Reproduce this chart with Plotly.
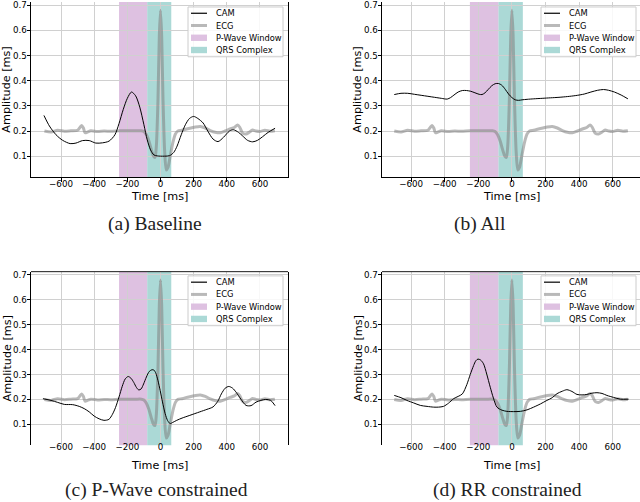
import plotly.graph_objects as go

# ---------------- data ----------------
ecg_t = [-700, -660, -620, -580, -540, -500, -485, -475, -465, -455, -440, -420, -380, -340,
         -300, -250, -200, -150, -115, -100, -85, -70, -55, -42, -33, -25, -15, -7, 0, 7, 15,
         25, 35, 45, 60, 75, 90, 105, 130, 170, 210, 240, 270, 300, 330, 360, 390, 420, 445,
         465, 478, 495, 515, 535, 555, 575, 600, 630, 660, 690]
ecg_v = [0.200, 0.196, 0.203, 0.199, 0.201, 0.203, 0.215, 0.222, 0.212, 0.193, 0.196, 0.201,
         0.198, 0.200, 0.199, 0.201, 0.201, 0.201, 0.201, 0.198, 0.185, 0.160, 0.125, 0.100,
         0.095, 0.140, 0.330, 0.580, 0.680, 0.580, 0.330, 0.120, 0.045, 0.055, 0.105, 0.155,
         0.188, 0.200, 0.203, 0.210, 0.216, 0.218, 0.212, 0.202, 0.195, 0.193, 0.200, 0.208,
         0.214, 0.224, 0.215, 0.192, 0.188, 0.195, 0.204, 0.200, 0.198, 0.203, 0.199, 0.201]

cam_a_t = [-703, -670, -630, -590, -545, -510, -470, -430, -390, -350, -310, -275, -250, -225,
           -200, -175, -150, -125, -100, -80, -60, -40, -20, 0, 25, 55, 80, 100, 125, 150, 175,
           200, 225, 257, 285, 317, 347, 380, 416, 440, 470, 496, 525, 556, 585, 615, 650, 691]
cam_a_v = [0.262, 0.220, 0.185, 0.163, 0.150, 0.152, 0.162, 0.162, 0.152, 0.153, 0.160, 0.185,
           0.230, 0.285, 0.330, 0.355, 0.340, 0.295, 0.225, 0.165, 0.125, 0.105, 0.101, 0.100,
           0.100, 0.102, 0.115, 0.140, 0.185, 0.225, 0.250, 0.258, 0.250, 0.232, 0.200, 0.168,
           0.158, 0.175, 0.200, 0.205, 0.195, 0.180, 0.163, 0.157, 0.163, 0.177, 0.195, 0.211]

cam_b_t = [-700, -660, -620, -580, -540, -500, -460, -420, -385, -365, -345, -320, -295, -270,
           -245, -220, -195, -178, -160, -140, -120, -100, -80, -60, -40, -20, 0, 20, 40, 60,
           90, 130, 180, 230, 280, 330, 380, 430, 470, 510, 545, 575, 610, 650, 690]
cam_b_v = [0.345, 0.350, 0.350, 0.346, 0.342, 0.338, 0.334, 0.330, 0.327, 0.333, 0.343, 0.355,
           0.361, 0.361, 0.358, 0.352, 0.346, 0.345, 0.352, 0.366, 0.380, 0.388, 0.389, 0.382,
           0.366, 0.347, 0.333, 0.324, 0.322, 0.324, 0.326, 0.328, 0.330, 0.332, 0.334, 0.337,
           0.341, 0.347, 0.355, 0.362, 0.365, 0.362, 0.355, 0.343, 0.328]

cam_c_t = [-709, -660, -620, -580, -530, -490, -460, -430, -400, -370, -341, -311, -290, -271,
           -250, -231, -213, -195, -178, -161, -145, -131, -117, -102, -85, -68, -52, -40, -28,
           -15, -2, 12, 28, 43, 58, 75, 98, 130, 177, 237, 280, 317, 345, 367, 390, 412, 435,
           456, 486, 516, 546, 576, 605, 635, 665, 691]
cam_c_v = [0.203, 0.196, 0.188, 0.180, 0.179, 0.172, 0.163, 0.150, 0.133, 0.122, 0.116, 0.120,
           0.140, 0.168, 0.210, 0.252, 0.282, 0.292, 0.285, 0.268, 0.248, 0.238, 0.242, 0.262,
           0.290, 0.312, 0.319, 0.318, 0.305, 0.275, 0.236, 0.190, 0.143, 0.115, 0.103, 0.108,
           0.116, 0.125, 0.136, 0.150, 0.160, 0.170, 0.192, 0.222, 0.245, 0.252, 0.245, 0.229,
           0.200, 0.176, 0.175, 0.189, 0.196, 0.200, 0.196, 0.175]

cam_d_t = [-700, -660, -625, -585, -545, -505, -466, -437, -407, -377, -347, -320, -295, -268,
           -248, -228, -215, -202, -186, -169, -150, -129, -110, -89, -60, -30, 10, 50, 90, 129,
           170, 208, 240, 268, 300, 327, 357, 387, 417, 446, 476, 506, 536, 565, 605, 645, 694]
cam_d_v = [0.216, 0.207, 0.196, 0.186, 0.176, 0.172, 0.169, 0.169, 0.172, 0.185, 0.203, 0.212,
           0.222, 0.260, 0.300, 0.336, 0.355, 0.362, 0.358, 0.343, 0.302, 0.249, 0.205, 0.169,
           0.157, 0.152, 0.151, 0.152, 0.158, 0.169, 0.182, 0.196, 0.207, 0.223, 0.233, 0.239,
           0.232, 0.220, 0.218, 0.220, 0.225, 0.227, 0.224, 0.216, 0.208, 0.201, 0.201]

p_wave_window = [-250, -80]
qrs_window = [-80, 65]

x_ticks = [-600, -400, -200, 0, 200, 400, 600]
y_ticks = [0.1, 0.2, 0.3, 0.4, 0.5, 0.6, 0.7]
captions = ["(a) Baseline", "(b) All", "(c) P-Wave constrained", "(d) RR constrained"]
legend_labels = ["CAM", "ECG", "P-Wave Window", "QRS Complex"]
cams = [(cam_a_t, cam_a_v), (cam_b_t, cam_b_v), (cam_c_t, cam_c_v), (cam_d_t, cam_d_v)]

# ---------------- layout geometry (pixels) ----------------
W, H = 640, 502
px_x = [(31, 288), (382, 640), (31, 288), (382, 640)]
px_y = [(0, 176), (0, 176), (270.75, 445), (270.75, 445)]
x_ranges = [[-781, 769], [-773, 762], [-781, 769], [-773, 762]]
y_range = [0.016, 0.713]
legend_pos = [(283, 5), (636, 5), (283, 275), (636, 275)]   # right edge, top
caption_pos = [(155, 222.5), (480, 222.5), (156, 490), (507, 490)]
ylabel_x = [7, 358, 7, 358]
xlabel_y = [195, 195, 465, 465]

TICKFONT = dict(family="DejaVu Sans", size=8.7, color="black")
LABELFONT = dict(family="DejaVu Sans", size=11.2, color="black")
LEGFONT = dict(family="DejaVu Sans", size=8.3, color="black")
CAPFONT = dict(family="Liberation Serif", size=19.5, color="#222222")
P_COLOR = "rgba(214,178,218,0.80)"
Q_COLOR = "rgba(150,208,204,0.80)"
ECG_COLOR = "rgba(128,128,128,0.55)"


def px(x, y):
    return x / W, 1 - y / H


fig = go.Figure()
shapes = []
annotations = []
layout = dict(width=W, height=H, margin=dict(l=0, r=0, t=0, b=0),
              paper_bgcolor="white", plot_bgcolor="white", showlegend=False)

for i in range(4):
    n = i + 1
    xs = "" if n == 1 else str(n)
    xref, yref = "x" + xs, "y" + xs
    t, v = cams[i]

    fig.add_trace(go.Scatter(x=ecg_t, y=ecg_v, mode="lines", name="ECG",
                             line=dict(color=ECG_COLOR, width=3, shape="spline", smoothing=0.7),
                             xaxis=xref, yaxis=yref))
    fig.add_trace(go.Scatter(x=t, y=v, mode="lines", name="CAM",
                             line=dict(color="black", width=1, shape="spline", smoothing=0.8),
                             xaxis=xref, yaxis=yref))

    shapes.append(dict(type="rect", xref=xref, yref=yref + " domain",
                       x0=p_wave_window[0], x1=p_wave_window[1], y0=0, y1=1,
                       fillcolor=P_COLOR, line=dict(width=0), layer="below"))
    shapes.append(dict(type="rect", xref=xref, yref=yref + " domain",
                       x0=qrs_window[0], x1=qrs_window[1], y0=0, y1=1,
                       fillcolor=Q_COLOR, line=dict(width=0), layer="below"))

    top_row = i < 2
    right_col = i % 2 == 1
    x0p, x1p = px_x[i]
    y0p, y1p = px_y[i]
    layout["xaxis" + xs] = dict(
        domain=[x0p / W, x1p / W], range=x_ranges[i], anchor=yref,
        tickvals=x_ticks, tickfont=TICKFONT, ticklabelstandoff=-5,
        showgrid=True, gridcolor="#d0d0d0", gridwidth=1, zeroline=False,
        showline=top_row, linecolor="black", linewidth=0.9, mirror=False,
        ticks="outside" if top_row else "", ticklen=3.5, tickwidth=0.8, tickcolor="black")
    layout["yaxis" + xs] = dict(
        domain=[1 - y1p / H, 1 - y0p / H], range=y_range, anchor=xref,
        tickvals=y_ticks, tickformat=".1f", tickfont=TICKFONT, ticklabelstandoff=-2,
        showgrid=True, gridcolor="#d0d0d0", gridwidth=1, zeroline=False,
        showline=True, linecolor="black", linewidth=0.9, mirror=not right_col,
        ticks="outside", ticklen=3.5, tickwidth=0.8, tickcolor="black")
    if not top_row:
        shapes.append(dict(type="line", xref=xref + " domain", yref=yref + " domain",
                           x0=0, x1=1, y0=1, y1=1, line=dict(color="black", width=0.9),
                           layer="above"))

    # ---- hand-drawn matplotlib-style legend ----
    R, T = legend_pos[i]
    L = R - 95
    bx0, by0 = px(L, T)
    bx1, by1 = px(R, T + 50)
    shapes.append(dict(type="rect", xref="paper", yref="paper", x0=bx0, x1=bx1, y0=by1, y1=by0,
                       fillcolor="rgba(255,255,255,0.85)", line=dict(color="#cccccc", width=1),
                       layer="above"))
    for k, lab in enumerate(legend_labels):
        cy = T + 6.3 + 12.3 * k
        hx0, _ = px(L + 3, cy)
        hx1, hy = px(L + 19, cy)
        if k == 0:
            shapes.append(dict(type="line", xref="paper", yref="paper", x0=hx0, x1=hx1,
                               y0=hy, y1=hy, line=dict(color="black", width=1.2), layer="above"))
        elif k == 1:
            shapes.append(dict(type="line", xref="paper", yref="paper", x0=hx0, x1=hx1,
                               y0=hy, y1=hy, line=dict(color=ECG_COLOR, width=3), layer="above"))
        else:
            _, ry0 = px(0, cy - 3.2)
            _, ry1 = px(0, cy + 3.2)
            shapes.append(dict(type="rect", xref="paper", yref="paper", x0=hx0, x1=hx1,
                               y0=ry1, y1=ry0, fillcolor=P_COLOR if k == 2 else Q_COLOR,
                               line=dict(width=0), layer="above"))
        tx, ty = px(L + 26, cy)
        annotations.append(dict(text=lab, x=tx, y=ty, xref="paper", yref="paper",
                                showarrow=False, xanchor="left", yanchor="middle",
                                font=LEGFONT))

    annotations.append(dict(text="Time [ms]", x=(x0p + x1p) / 2 / W, y=1 - xlabel_y[i] / H,
                            xref="paper", yref="paper", showarrow=False,
                            xanchor="center", yanchor="middle", font=LABELFONT))
    annotations.append(dict(text="Amplitude [ms]", x=ylabel_x[i] / W,
                            y=1 - (y0p + y1p) / 2 / H, xref="paper", yref="paper",
                            showarrow=False, textangle=-90, xanchor="center",
                            yanchor="middle", font=LABELFONT))
    cx, cy = caption_pos[i]
    annotations.append(dict(text=captions[i], x=cx / W, y=1 - cy / H, xref="paper",
                            yref="paper", showarrow=False, xanchor="center",
                            yanchor="middle", font=CAPFONT))

layout["shapes"] = shapes
layout["annotations"] = annotations
fig.update_layout(**layout)
fig.write_html("out.html",
               config={"displayModeBar": False},
               post_script="document.body.style.margin='0';document.body.style.padding='0';"
                           "document.body.style.overflow='hidden';")
